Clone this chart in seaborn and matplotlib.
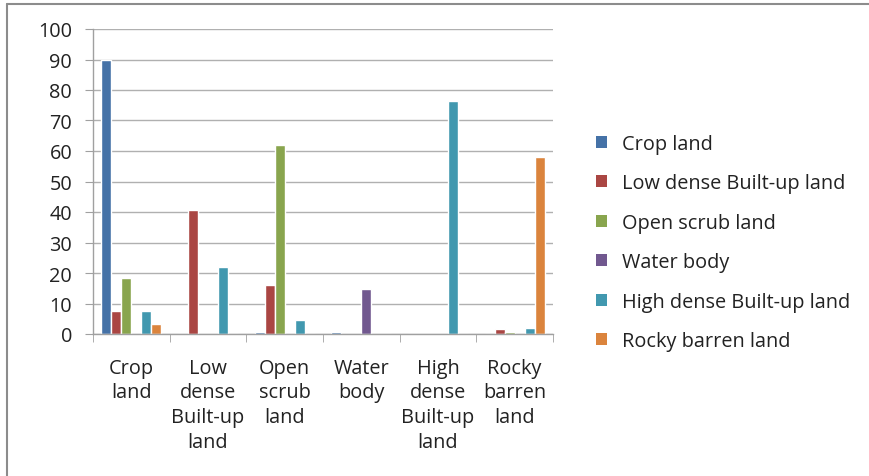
import matplotlib
matplotlib.use("Agg")
import matplotlib.pyplot as plt
from matplotlib.lines import Line2D
from matplotlib.patches import Patch
import pandas as pd
import seaborn as sns

CATEGORIES = [
    "Crop\nland", "Low\ndense\nBuilt-up\nland", "Open\nscrub\nland",
    "Water\nbody", "High\ndense\nBuilt-up\nland", "Rocky\nbarren\nland",
]
SERIES = [
    "Crop land", "Low dense Built-up land", "Open scrub land",
    "Water body", "High dense Built-up land", "Rocky barren land",
]
CROP_LAND = [90.0, 0.0, 0.5, 0.5, 0.0, 0.0]
LOW_DENSE = [7.5, 40.5, 16.0, 0.0, 0.0, 1.5]
OPEN_SCRUB = [18.5, 0.0, 62.0, 0.0, 0.0, 0.8]
WATER_BODY = [0.0, 0.0, 0.0, 14.8, 0.0, 0.0]
HIGH_DENSE = [7.5, 22.0, 4.7, 0.0, 76.5, 2.0]
ROCKY = [3.3, 0.0, 0.0, 0.0, 0.0, 58.0]
COLORS = ["#4572A7", "#AA4643", "#89A54E", "#71588F", "#4198AF", "#DB843D"]

values = [CROP_LAND, LOW_DENSE, OPEN_SCRUB, WATER_BODY, HIGH_DENSE, ROCKY]
rows = []
for name, vals in zip(SERIES, values):
    for cat, v in zip(CATEGORIES, vals):
        rows.append({"category": cat, "series": name, "value": v})
df = pd.DataFrame(rows)

sns.set_style("white")
plt.rcParams["font.family"] = ["Open Sans", "DejaVu Sans"]

FS = 14.3

fig = plt.figure(figsize=(8.69, 4.77), dpi=100)
ax = fig.add_axes([93 / 869, 1 - 335 / 477, 460 / 869, 305 / 477])

sns.barplot(data=df, x="category", y="value", hue="series", hue_order=SERIES,
            order=CATEGORIES, palette=COLORS, width=0.78, saturation=1,
            ax=ax, legend=False)

ax.set_ylim(0, 100)
ax.set_xlim(-0.5, len(CATEGORIES) - 0.5)
ax.set_yticks(range(0, 101, 10))
ax.yaxis.grid(True, color="#B0B0B0", linewidth=1)
ax.set_axisbelow(True)
ax.set_xlabel("")
ax.set_ylabel("")

for side in ["top", "right"]:
    ax.spines[side].set_visible(False)
for side in ["left", "bottom"]:
    ax.spines[side].set_color("#A0A0A0")
    ax.spines[side].set_linewidth(1)

ax.tick_params(axis="y", length=6, color="#A0A0A0", labelsize=FS,
               labelcolor="#222222", pad=9, left=True)
ax.set_xticks([i + 0.5 for i in range(-1, len(CATEGORIES))], minor=True)
ax.tick_params(axis="x", which="minor", length=6, color="#A0A0A0", bottom=True)
ax.tick_params(axis="x", which="major", length=0, labelsize=FS,
               labelcolor="#222222", pad=17)
for lbl in ax.get_xticklabels():
    lbl.set_linespacing(1.32)
    lbl.set_verticalalignment("top")

handles = [Patch(facecolor=c, edgecolor="none") for c in COLORS]
fig.legend(handles, SERIES, loc="upper left", bbox_to_anchor=(578 / 869, 1 - 117 / 477),
           frameon=False, fontsize=FS, handlelength=0.55, handleheight=0.55,
           handletextpad=0.75, labelspacing=0.98, labelcolor="#222222")

fig.add_artist(Line2D([7 / 869, 7 / 869], [0, 1 - 5 / 477], transform=fig.transFigure,
                      color="#8C8C8C", linewidth=1.5))
fig.add_artist(Line2D([7 / 869, 1], [1 - 5 / 477, 1 - 5 / 477], transform=fig.transFigure,
                      color="#8C8C8C", linewidth=1.5))

fig.savefig("out.png", dpi=100)
